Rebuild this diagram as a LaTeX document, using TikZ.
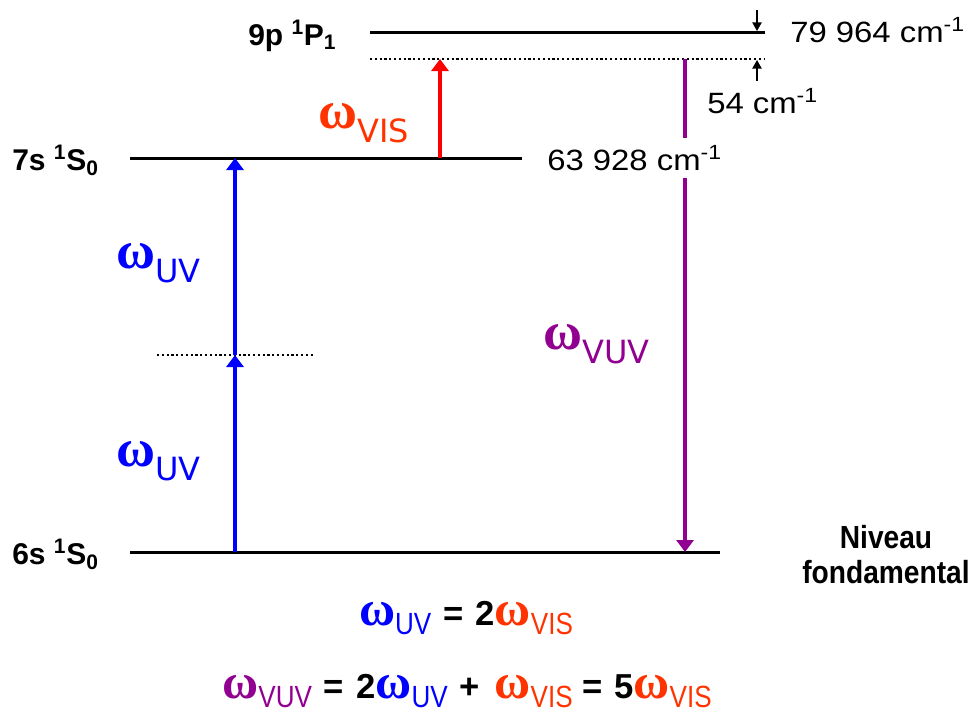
\documentclass[tikz,border=0pt]{standalone}
\usepackage{fontspec}
\setmainfont{Liberation Sans}
\newfontfamily\omf{Liberation Serif}
\newfontfamily\subf{DejaVu Sans}
\newfontfamily\widef[FakeStretch=1.12]{Liberation Sans}
\newfontfamily\condf[FakeStretch=0.85]{Liberation Sans}
\newfontfamily\condB[FakeStretch=0.88]{Liberation Sans}
\usetikzlibrary{arrows.meta}
\definecolor{uvc}{RGB}{0,0,255}
\definecolor{visarrow}{RGB}{255,0,0}
\definecolor{visc}{RGB}{255,51,0}
\definecolor{vuvc}{RGB}{145,0,145}
\newcommand\Wlab[2]{{\color{#1}{\omf\bfseries\fontsize{40}{40}\selectfont ω}\raisebox{-11pt}{\subf\fontsize{24}{24}\selectfont #2}}}
\newcommand\Weq[2]{{\color{#1}{\omf\bfseries\fontsize{37}{37}\selectfont ω}\raisebox{-7pt}{\condf\mdseries\fontsize{23}{23}\selectfont #2}}}
\begin{document}
\begin{tikzpicture}[x=0.75pt,y=-0.75pt,
  level/.style={line width=2.25pt},
  virt/.style={line width=1.6pt, dash pattern=on 1.6pt off 2pt},
  photon/.style={line width=2.4pt, -{Triangle[length=9pt,width=12.75pt]}},
  gap/.style={line width=1.1pt, -{Triangle[length=6.5pt,width=7pt]}},
  txt/.style={inner sep=0pt, anchor=base west},
  lvl/.style={txt, font=\bfseries\fontsize{22.5}{22.5}\selectfont},
  wn/.style={txt, font=\widef\fontsize{22}{22}\selectfont},
  eqn/.style={inner sep=0pt, anchor=base, font=\bfseries\fontsize{26}{26}\selectfont}]
\useasboundingbox (0,0) rectangle (973,718);
% levels
\coordinate (g0) at (130,552); \coordinate (g1) at (720,552);
\coordinate (s0) at (130,158); \coordinate (s1) at (522,158);
\coordinate (p0) at (370,32);  \coordinate (p1) at (765,32);
\coordinate (v0) at (370,59);  \coordinate (v1) at (765,59);
\coordinate (m0) at (157,355); \coordinate (m1) at (315,355);
\draw[level] (g0) -- (g1);
\draw[level] (s0) -- (s1);
\draw[level] (p0) -- (p1);
\draw[virt] (v0) -- (v1);
\draw[virt] (m0) -- (m1);
% arrow end points
\coordinate (uvA) at (235,552); \coordinate (uvB) at (235,355); \coordinate (uvC) at (235,158);
\coordinate (visA) at (440,158); \coordinate (visB) at (440,59);
\coordinate (vuvA) at (685,59); \coordinate (vuvB) at (685,552);
\coordinate (t0) at (757,10); \coordinate (t1) at (757,31);
\coordinate (b0) at (757,81); \coordinate (b1) at (757,60);
\draw[photon, uvc] (uvA) -- (uvB);
\draw[photon, uvc] (uvB) -- (uvC);
\draw[photon, visarrow, line width=3pt] (visA) -- (visB);
\draw[photon, vuvc] (vuvA) -- (vuvB);
\draw[gap] (t0) -- (t1);
\draw[gap] (b0) -- (b1);
% level labels
\node[lvl] (l9p) at (248,45) {9p \textsuperscript{1}P\textsubscript{1}};
\node[lvl] (l7s) at (12,170) {7s \textsuperscript{1}S\textsubscript{0}};
\node[lvl] (l6s) at (12,564) {6s \textsuperscript{1}S\textsubscript{0}};
\node[inner sep=0pt, anchor=base, align=center, font=\condB\bfseries\fontsize{24}{26}\selectfont] (nf) at (886,583) {Niveau\\fondamental};
% wavenumbers
\node[wn] (e9p) at (790,42) {79 964 cm\textsuperscript{-1}};
\node[wn] (e54) at (707,113) {54 cm\textsuperscript{-1}};
\node[wn, fill=white, inner ysep=6pt] (e7s) at (547,170) {63 928 cm\textsuperscript{-1}};
% photon labels
\node[txt] (wuv1) at (116,268) {\Wlab{uvc}{UV}};
\node[txt] (wuv2) at (116,466) {\Wlab{uvc}{UV}};
\node[txt] (wvis) at (318,128) {\Wlab{visc}{VIS}};
\node[txt] (wvuv) at (543,349) {\Wlab{vuvc}{VUV}};
% equations
\node[eqn] (eq1) at (466,625)
  {\Weq{uvc}{UV}\hspace{9pt}=\hspace{9pt}2\Weq{visc}{VIS}};
\node[eqn] (eq2) at (467,698)
  {\Weq{vuvc}{VUV}\hspace{9pt}=\hspace{9pt}2\Weq{uvc}{UV}\hspace{9pt}+\hspace{11pt}\Weq{visc}{VIS}\hspace{7pt}=\hspace{9pt}5\Weq{visc}{VIS}};
\end{tikzpicture}
\end{document}
